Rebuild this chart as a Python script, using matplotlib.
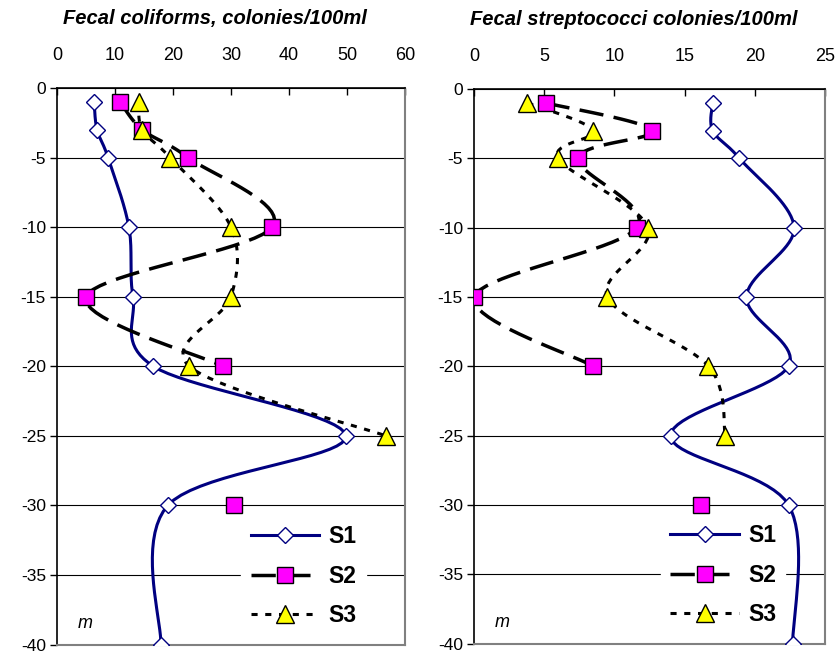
import matplotlib
matplotlib.use("Agg")
import matplotlib.pyplot as plt
import numpy as np

plt.rcParams['font.family'] = ['Liberation Sans', 'DejaVu Sans']
plt.rcParams['axes.unicode_minus'] = False

# depths (m) and values; nan = no sample
depth = [-1, -3, -5, -10, -15, -20, -25, -30, -40]

coli_s1 = [6.4, 6.9, 8.8, 12.4, 13.1, 16.6, 49.8, 19.1, 17.9]
coli_s2 = [10.9, 14.7, 22.6, 37.1, 5.0, 28.6, np.nan, 30.5, np.nan]
coli_s3 = [14.1, 14.7, 19.5, 30.0, 30.0, 22.8, 56.7, np.nan, np.nan]

strep_s1 = [17.0, 17.0, 18.9, 22.8, 19.4, 22.4, 14.0, 22.4, 22.7]
strep_s2 = [5.1, 12.7, 7.4, 11.6, 0.0, 8.5, np.nan, 16.2, np.nan]
strep_s3 = [3.8, 8.5, 6.0, 12.4, 9.5, 16.7, 17.9, np.nan, np.nan]

titles = ["Fecal coliforms, colonies/100ml", "Fecal streptococci colonies/100ml"]
xmax = [60, 25]
xstep = [10, 5]


def smooth(ax, x, y, n=20):
    # excel-like smoothed line (bezier through the points), done in pixel space
    pts = ax.transData.transform(np.column_stack([x, y]))
    out = [pts[0]]
    for i in range(len(pts) - 1):
        p0 = pts[max(i - 1, 0)]
        p1 = pts[i]
        p2 = pts[i + 1]
        p3 = pts[min(i + 2, len(pts) - 1)]
        c1 = p1 + (p2 - p0) / 6
        c2 = p2 - (p3 - p1) / 6
        t = np.linspace(0, 1, n)[1:, None]
        seg = (1 - t) ** 3 * p1 + 3 * (1 - t) ** 2 * t * c1 + 3 * (1 - t) * t ** 2 * c2 + t ** 3 * p2
        out.extend(seg)
    out = ax.transData.inverted().transform(np.array(out))
    return out[:, 0], out[:, 1]


def plot_series(ax, xs, style, marker_kw, label):
    xs = np.array(xs, dtype=float)
    ys = np.array(depth, dtype=float)
    ok = ~np.isnan(xs)
    # split into runs of consecutive samples
    runs, cur = [], []
    for i in range(len(xs)):
        if ok[i]:
            cur.append(i)
        elif cur:
            runs.append(cur)
            cur = []
    if cur:
        runs.append(cur)
    for r in runs:
        if len(r) > 1:
            sx, sy = smooth(ax, xs[r], ys[r])
            ax.plot(sx, sy, **style, zorder=3)
    ax.plot(xs[ok], ys[ok], linestyle="none", zorder=4, **marker_kw)
    # handle for legend
    ax.plot([], [], label=label, **style, **marker_kw)


fig = plt.figure(figsize=(8.37, 6.55), dpi=100)
ax1 = fig.add_axes([0.0681, 0.0160, 0.4158, 0.8496])
ax2 = fig.add_axes([0.5663, 0.0175, 0.4194, 0.8466])

s1_style = dict(color="#000080", linewidth=2.2)
s2_style = dict(color="black", linewidth=2.5, dashes=(7, 3))
s3_style = dict(color="black", linewidth=2.2, dashes=(2, 2.5))
s1_mk = dict(marker="D", markersize=8, markerfacecolor="white", markeredgecolor="#000080", markeredgewidth=1)
s2_mk = dict(marker="s", markersize=12, markerfacecolor="#ff00ff", markeredgecolor="black", markeredgewidth=1)
s3_mk = dict(marker="^", markersize=13, markerfacecolor="#ffff00", markeredgecolor="black", markeredgewidth=1)

data = [(coli_s1, coli_s2, coli_s3), (strep_s1, strep_s2, strep_s3)]

for k, ax in enumerate([ax1, ax2]):
    ax.set_xlim(0, xmax[k])
    ax.set_ylim(-40, 0)
    s1, s2, s3 = data[k]
    plot_series(ax, s1, s1_style, s1_mk, "S1")
    plot_series(ax, s2, s2_style, s2_mk, "S2")
    plot_series(ax, s3, s3_style, s3_mk, "S3")

    ax.set_xticks(np.arange(0, xmax[k] + 1, xstep[k]))
    ax.set_yticks(np.arange(-40, 1, 5))
    ax.xaxis.tick_top()
    ax.tick_params(axis="x", direction="in", length=5, labelsize=13, pad=17, width=1)
    ax.tick_params(axis="y", direction="out", length=5, labelsize=12.5, pad=3, width=1)
    ax.yaxis.grid(True, color="black", linewidth=0.8, zorder=0.5)
    ax.set_axisbelow(True)
    for side in ["top", "left"]:
        ax.spines[side].set_color("black")
        ax.spines[side].set_linewidth(1.2)
    for side in ["right", "bottom"]:
        ax.spines[side].set_color("#808080")
        ax.spines[side].set_linewidth(1.5)

    ax.text(0.06, 0.03, "m", transform=ax.transAxes, fontsize=13, style="italic")
    ax.text(0.455, 1.125, titles[k], transform=ax.transAxes, ha="center", va="center",
            fontsize=14.5, fontweight="bold", style="italic")

    leg = ax.legend(loc="lower right", bbox_to_anchor=(0.92, -0.006), frameon=True,
                    prop=dict(size=16.5, weight="bold"), handlelength=3.0,
                    labelspacing=0.72, borderpad=0.4, handletextpad=0.4, fancybox=False)
    leg.get_frame().set_edgecolor("white")
    leg.get_frame().set_facecolor("white")
    leg.get_frame().set_alpha(1)
    leg.set_zorder(2)

fig.savefig("out.png", dpi=100)
